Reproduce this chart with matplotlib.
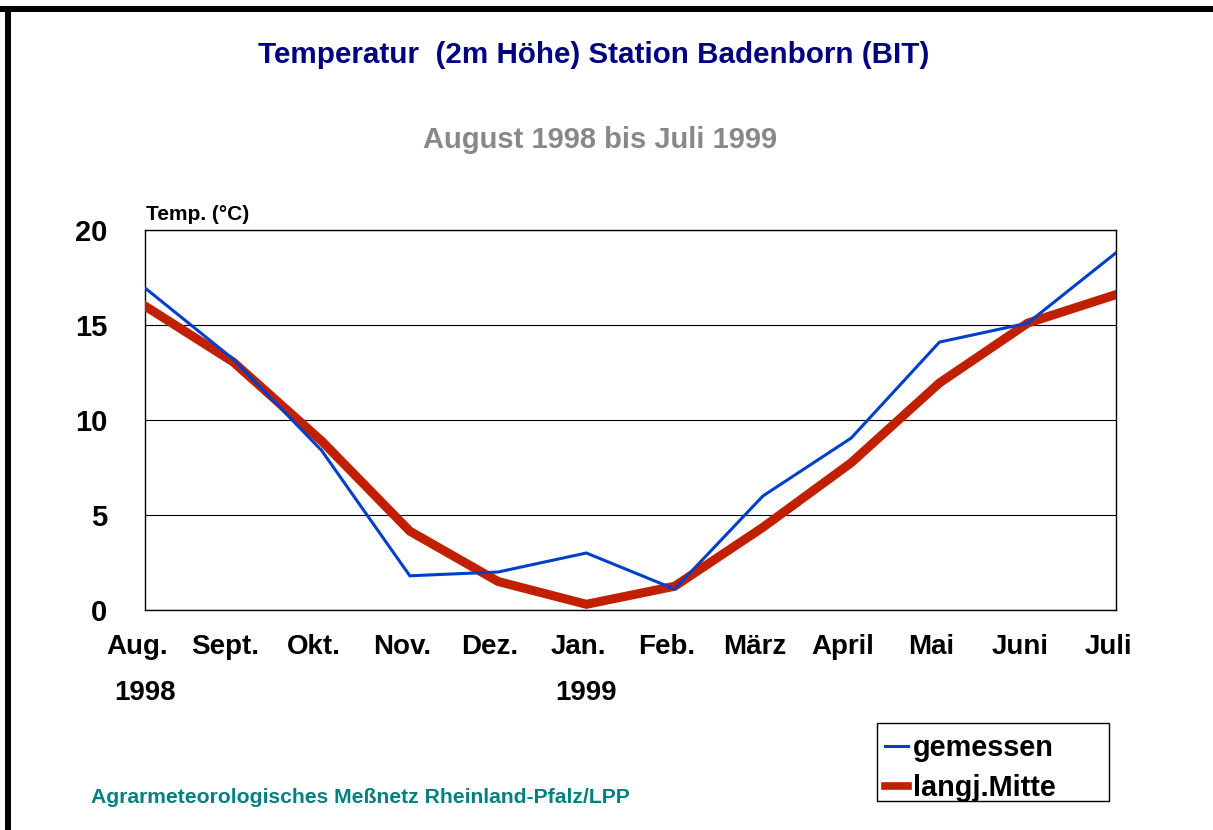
import matplotlib
matplotlib.use("Agg")
import matplotlib.pyplot as plt
from matplotlib.patches import Rectangle
from matplotlib.transforms import ScaledTranslation

plt.rcParams['font.family'] = ['Liberation Sans', 'DejaVu Sans']
plt.rcParams['font.weight'] = 'bold'

months = ["Aug.", "Sept.", "Okt.", "Nov.", "Dez.", "Jan.", "Feb.", "März",
          "April", "Mai", "Juni", "Juli"]
years = {0: "1998", 5: "1999"}
gemessen = [16.95, 13.2, 8.4, 1.8, 2.0, 3.0, 1.1, 6.0, 9.05, 14.1, 15.1, 18.8]
langj_mitte = [16.0, 13.05, 8.9, 4.15, 1.5, 0.3, 1.25, 4.35, 7.75, 11.95, 15.1, 16.6]
yticks = [0, 5, 10, 15, 20]

W, H = 1213, 830
fig = plt.figure(figsize=(W / 100, H / 100), dpi=100)
fig.patch.set_facecolor("white")

ax_l, ax_r, ax_t, ax_b = 145, 1116, 230, 610
ax = fig.add_axes([ax_l / W, 1 - ax_b / H, (ax_r - ax_l) / W, (ax_b - ax_t) / H])

x = list(range(len(months)))
ax.plot(x, gemessen, color="#0040C8", lw=2.2, solid_joinstyle="miter", label="gemessen", zorder=4)
ax.plot(x, langj_mitte, color="#C02000", lw=6.5, solid_joinstyle="miter", label="langj.Mitte", zorder=3)

ax.set_xlim(0, len(months) - 1)
ax.set_ylim(0, 20)
ax.set_yticks(yticks)
ax.set_yticklabels([str(v) for v in yticks], fontsize=21, fontweight="bold")
ax.set_xticks(x)
ax.set_xticklabels(months, fontsize=20, fontweight="bold")
ax.tick_params(axis="both", length=0)
ax.tick_params(axis="y", pad=27)
ax.tick_params(axis="x", pad=17)
shift = ScaledTranslation(-8 / 100, 0, fig.dpi_scale_trans)
for lbl in ax.get_xticklabels():
    lbl.set_transform(lbl.get_transform() + shift)
ax.grid(axis="y", color="black", lw=0.8)
ax.set_axisbelow(True)
for s in ax.spines.values():
    s.set_color("black")
    s.set_linewidth(1.0)

for i, yr in years.items():
    ax.annotate(yr, xy=(i, 0), xycoords=("data", "axes fraction"),
                xytext=(0, -83), textcoords="offset pixels",
                ha="center", va="center", fontsize=20, fontweight="bold")

ax.annotate("Temp. (°C)", xy=(0, 1), xycoords="axes fraction",
            xytext=(1, 10), textcoords="offset pixels", ha="left", va="baseline",
            fontsize=15, fontweight="bold")

fig.text(594 / W, 1 - 55 / H, "Temperatur  (2m Höhe) Station Badenborn (BIT)",
         ha="center", va="center", fontsize=21.3, fontweight="bold", color="#000080")
fig.text(600 / W, 1 - 140 / H, "August 1998 bis Juli 1999",
         ha="center", va="center", fontsize=21, fontweight="bold", color="#888888")
fig.text(91 / W, 1 - 797 / H, "Agrarmeteorologisches Meßnetz Rheinland-Pfalz/LPP",
         ha="left", va="center", fontsize=15.2, fontweight="bold", color="#008080")

leg = fig.legend(loc="upper left", bbox_to_anchor=(885 / W, 1 - 734 / H),
                 frameon=False,
                 prop={"size": 20.8, "weight": "bold"}, handlelength=0.78,
                 handletextpad=0.2, borderpad=0, labelspacing=0.42,
                 borderaxespad=0, handleheight=0.7)
leg.get_lines()[1].set_linewidth(5.5)
# legend frame
fig.add_artist(Rectangle((877 / W, 1 - 801 / H), (1109 - 877) / W, (801 - 723) / H,
                         transform=fig.transFigure, facecolor="none",
                         edgecolor="black", lw=1.0))

# outer black border (top and left)
fig.add_artist(Rectangle((0, 1 - 12 / H), 1, 6 / H, transform=fig.transFigure,
                         facecolor="black", edgecolor="none"))
fig.add_artist(Rectangle((5 / W, 0), 6 / W, 1 - 7 / H, transform=fig.transFigure,
                         facecolor="black", edgecolor="none"))

fig.savefig("out.png", dpi=100)
